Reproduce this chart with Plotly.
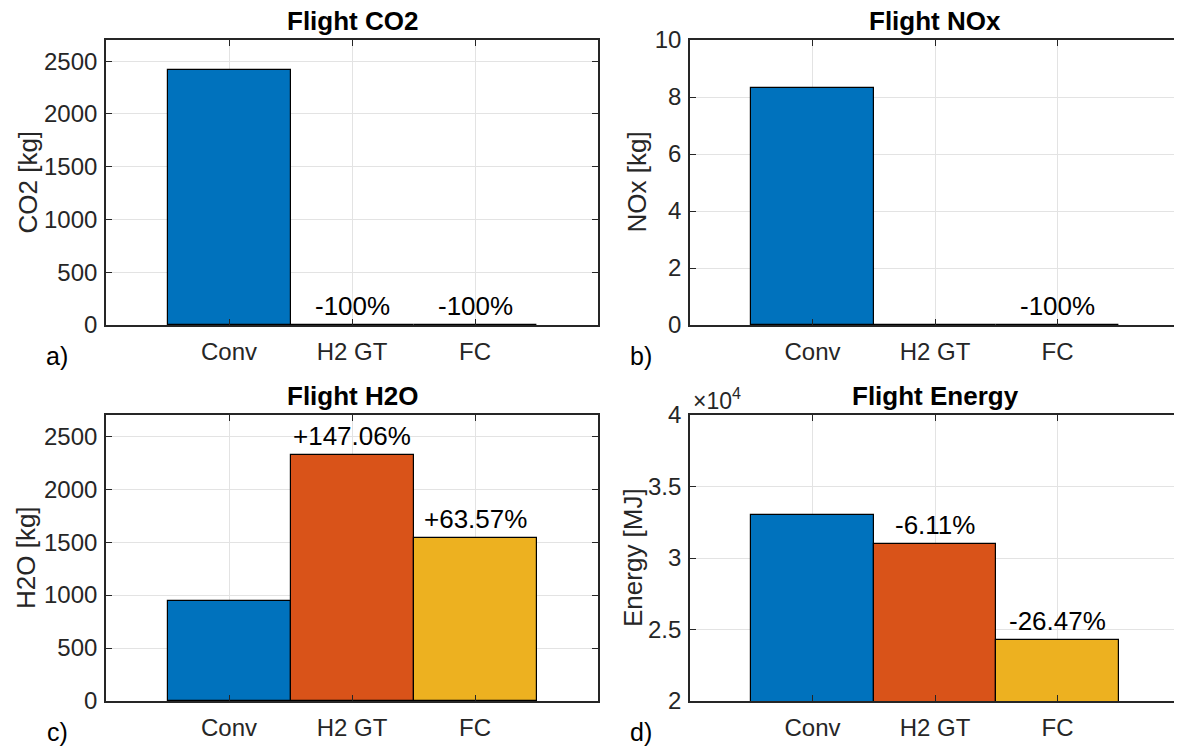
import plotly.graph_objects as go

# ---------------- data ----------------
categories = ["Conv", "H2 GT", "FC"]
bar_colors = ["#0072BD", "#D95319", "#EDB120"]

co2_values = [2420, 0, 0]
co2_labels = ["", "-100%", "-100%"]

nox_values = [8.3, 0, 0]
nox_labels = ["", "", "-100%"]

h2o_values = [940, 2322, 1538]
h2o_labels = ["", "+147.06%", "+63.57%"]

energy_values = [32975, 30960, 24247]
energy_labels = ["", "-6.11%", "-26.47%"]

kg_ticks = [0, 500, 1000, 1500, 2000, 2500]
nox_ticks = [0, 2, 4, 6, 8, 10]
energy_ticks = [20000, 25000, 30000, 35000, 40000]
energy_ticktext = ["2", "2.5", "3", "3.5", "4"]

panels = [
    dict(title="Flight CO2", ylabel="CO2 [kg]", tag="a)", vals=co2_values, labels=co2_labels,
         yrange=[0, 2700], tickvals=kg_ticks, ticktext=None, ylab_gap=79),
    dict(title="Flight NOx", ylabel="NOx [kg]", tag="b)", vals=nox_values, labels=nox_labels,
         yrange=[0, 10], tickvals=nox_ticks, ticktext=None, ylab_gap=54),
    dict(title="Flight H2O", ylabel="H2O [kg]", tag="c)", vals=h2o_values, labels=h2o_labels,
         yrange=[0, 2700], tickvals=kg_ticks, ticktext=None, ylab_gap=80),
    dict(title="Flight Energy", ylabel="Energy [MJ]", tag="d)", vals=energy_values, labels=energy_labels,
         yrange=[20000, 40000], tickvals=energy_ticks, ticktext=energy_ticktext, ylab_gap=57),
]

# ---------------- layout geometry (pixels) ----------------
W, H = 1182, 751
OFF = 8  # page body margin offset of the figure div
col_x = [(106 - OFF, 598 - OFF), (690 - OFF, 1180 - OFF)]
row_y = [(40 - OFF, 325 - OFF), (415 - OFF, 701 - OFF)]

FONT = "Liberation Sans, Arial, Helvetica, sans-serif"
AXC = "#262626"
GRID = "#e3e3e3"

fig = go.Figure()
annotations = []

for i, p in enumerate(panels):
    r, c = divmod(i, 2)
    n = i + 1
    xa = "x" if n == 1 else f"x{n}"
    ya = "y" if n == 1 else f"y{n}"
    fig.add_trace(go.Bar(
        x=categories, y=p["vals"], width=1,
        marker=dict(color=bar_colors, line=dict(color="black", width=1.2)),
        xaxis=xa, yaxis=ya, showlegend=False, hoverinfo="x+y",
    ))
    x0, x1 = col_x[c]
    y0, y1 = row_y[r]
    xdom = [x0 / W, x1 / W]
    ydom = [1 - y1 / H, 1 - y0 / H]
    xkey = "xaxis" if n == 1 else f"xaxis{n}"
    ykey = "yaxis" if n == 1 else f"yaxis{n}"
    fig.layout[xkey] = dict(
        domain=xdom, anchor=ya, range=[-1, 3], type="category", automargin=False,
        showline=True, linecolor=AXC, linewidth=1.6, mirror="allticks",
        ticks="inside", ticklen=6, tickcolor=AXC, tickwidth=1.2,
        showgrid=True, gridcolor=GRID, gridwidth=1, zeroline=False,
        tickfont=dict(family=FONT, size=24, color=AXC), ticklabelstandoff=4,
        fixedrange=True,
    )
    yax = dict(
        domain=ydom, anchor=xa, range=p["yrange"], tickvals=p["tickvals"], automargin=False,
        showline=True, linecolor=AXC, linewidth=1.6, mirror="allticks",
        ticks="inside", ticklen=6, tickcolor=AXC, tickwidth=1.2,
        showgrid=True, gridcolor=GRID, gridwidth=1, zeroline=False,
        tickfont=dict(family=FONT, size=24, color=AXC), ticklabelstandoff=2,
        fixedrange=True,
    )
    if p["ticktext"] is not None:
        yax["ticktext"] = p["ticktext"]
    fig.layout[ykey] = yax

    # percentage labels above bars
    for cat, v, lab in zip(categories, p["vals"], p["labels"]):
        if lab:
            annotations.append(dict(
                x=cat, y=v, xref=xa, yref=ya, text=lab, showarrow=False,
                xanchor="center", yanchor="bottom", yshift=2,
                font=dict(family=FONT, size=26, color="black"),
            ))
    # title
    annotations.append(dict(
        x=(x0 + x1) / 2 / W, y=1 - (y0 - 19) / H, xref="paper", yref="paper",
        text=f"<b>{p['title']}</b>", showarrow=False, xanchor="center", yanchor="middle",
        borderpad=0,
        font=dict(family=FONT, size=26, color="black"),
    ))
    # y-axis label
    annotations.append(dict(
        x=(x0 - p["ylab_gap"]) / W, y=1 - (y0 + y1) / 2 / H, xref="paper", yref="paper",
        text=p["ylabel"], textangle=-90, showarrow=False, xanchor="center", yanchor="middle",
        font=dict(family=FONT, size=26, color=AXC),
    ))
    # panel tag
    annotations.append(dict(
        x=(x0 - 49) / W, y=1 - (y1 + 31) / H, xref="paper", yref="paper",
        text=p["tag"], showarrow=False, xanchor="center", yanchor="middle",
        font=dict(family=FONT, size=25, color="black"),
    ))

# exponent label for energy axis
annotations.append(dict(
    x=(col_x[1][0] + 1) / W, y=1 - (row_y[1][0] + 1) / H, xref="paper", yref="paper",
    text="\u00d710<sup>4</sup>", showarrow=False, xanchor="left", yanchor="bottom",
    font=dict(family=FONT, size=23, color=AXC),
))

fig.update_layout(
    width=W, height=H, margin=dict(l=0, r=0, t=0, b=0, pad=0, autoexpand=False),
    paper_bgcolor="white", plot_bgcolor="white",
    bargap=0, annotations=annotations,
    font=dict(family=FONT),
)

fig.write_html("out.html")
